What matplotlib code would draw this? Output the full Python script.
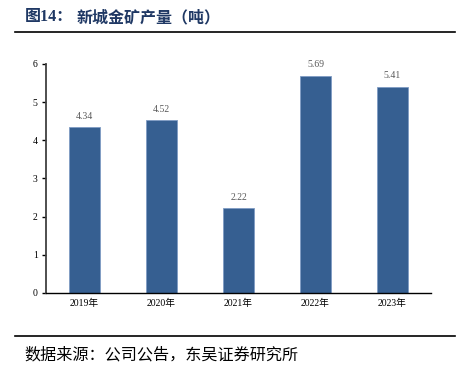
import numpy as np
from matplotlib import pyplot as plt
from matplotlib.lines import Line2D

years = ['2019年', '2020年', '2021年', '2022年', '2023年']
output = [4.34, 4.52, 2.22, 5.69, 5.41]

plt.rcParams['font.family'] = ['Liberation Serif', 'Noto Sans CJK SC']

fig = plt.figure(figsize=(4.62, 3.72), dpi=100)
ax = fig.add_axes([0.0996, 0.2124, 0.8334, 0.6156])

x = np.arange(len(years))
bars = ax.bar(x, output, width=0.4, color='#365F91', edgecolor='#7F9CC4', linewidth=0.6)
for xi, v in zip(x, output):
  ax.text(xi, v + 0.17, f'{v:.2f}', ha='center', va='bottom', fontsize=7, color='#595959')

ax.set_xlim(-0.5, len(years) - 0.5)
ax.set_ylim(0, 6)
ax.set_yticks(range(7))
ax.set_xticks(x)
ax.set_xticklabels(years)
ax.tick_params(axis='y', labelsize=7, length=3, width=1, direction='out', pad=3)
ax.tick_params(axis='x', labelsize=7, length=0, pad=4)
for s in ['top', 'right']:
  ax.spines[s].set_visible(False)
ax.spines['left'].set_linewidth(1.3)
ax.spines['left'].set_color('#404040')
ax.spines['bottom'].set_linewidth(1.0)
ax.spines['bottom'].set_color('black')

fig.text(0.054, 0.953, '图14：', fontsize=11.5, fontweight='bold',
         color='#1F3864', ha='left', va='center', family=['Liberation Serif', 'Noto Sans CJK SC'])
fig.text(0.165, 0.953, '新城金矿产量（吨）', fontsize=11.5, fontweight='bold',
         color='#1F3864', ha='left', va='center', family=['Noto Sans CJK SC', 'DejaVu Sans'])
fig.add_artist(Line2D([0.033, 0.985], [0.914, 0.914], color='black', linewidth=1.2))
fig.add_artist(Line2D([0.033, 0.985], [0.097, 0.097], color='black', linewidth=1.2))
fig.text(0.052, 0.045, '数据来源：公司公告，东吴证券研究所', fontsize=11.6,
         color='black', ha='left', va='center', family=['Noto Sans CJK SC', 'DejaVu Sans'])

plt.savefig('out.png', dpi=100)
